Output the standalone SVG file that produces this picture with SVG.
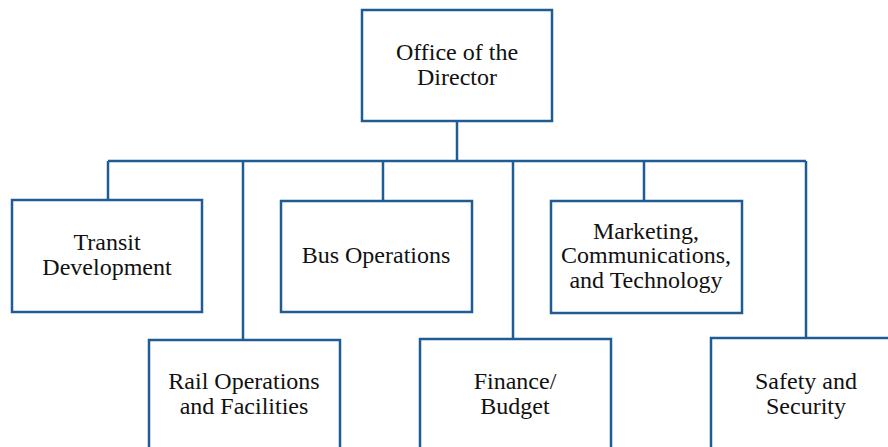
<svg xmlns="http://www.w3.org/2000/svg" width="888" height="447" viewBox="0 0 888 447">
<style>
.box{fill:#fff;stroke:#1F5C94;stroke-width:2.5}
.ln{fill:none;stroke:#1F5C94;stroke-width:2.5}
text{font-family:"Liberation Serif","Times New Roman",serif;font-size:24px;fill:#111;text-anchor:middle}
</style>
<rect width="888" height="447" fill="#fff"/>
<g id="connectors">
<path class="ln" d="M457,121V161"/>
<path class="ln" d="M108,161H806"/>
<path class="ln" d="M108,161V200"/>
<path class="ln" d="M243,161V340"/>
<path class="ln" d="M383,161V201"/>
<path class="ln" d="M513,161V339"/>
<path class="ln" d="M644,161V201"/>
<path class="ln" d="M806,161V338"/>
</g>
<g id="director"><rect class="box" x="362" y="10" width="190" height="111"/><text x="457" y="60">Office of the</text><text x="457" y="85">Director</text></g>
<g id="transit"><rect class="box" x="12" y="200" width="190" height="112"/><text x="107" y="250">Transit</text><text x="107" y="275">Development</text></g>
<g id="bus"><rect class="box" x="281" y="201" width="191" height="111"/><text x="376" y="263">Bus Operations</text></g>
<g id="marketing"><rect class="box" x="551" y="201" width="191" height="112"/><text x="646" y="239">Marketing,</text><text x="646" y="263">Communications,</text><text x="646" y="288">and Technology</text></g>
<g id="rail"><rect class="box" x="149" y="340" width="191" height="130"/><text x="244" y="389">Rail Operations</text><text x="244" y="414">and Facilities</text></g>
<g id="finance"><rect class="box" x="420" y="339" width="191" height="130"/><text x="515" y="389">Finance/</text><text x="515" y="414">Budget</text></g>
<g id="safety"><rect class="box" x="711" y="338" width="200" height="130"/><text x="806" y="389">Safety and</text><text x="806" y="414">Security</text></g>
</svg>
